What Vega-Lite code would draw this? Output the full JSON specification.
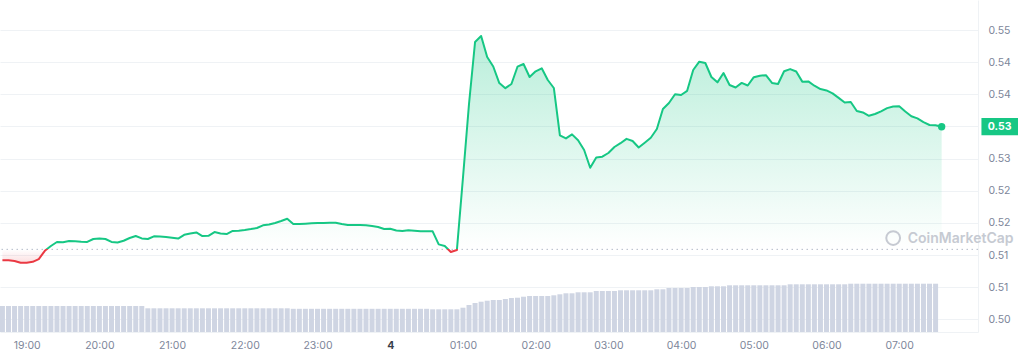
{
  "$schema": "https://vega.github.io/schema/vega-lite/v6.json",
  "width": 978,
  "height": 332,
  "autosize": {"type": "none"},
  "padding": {"left": 0, "top": 0, "right": 40, "bottom": 24},
  "background": "white",
  "config": {"view": {"stroke": null}, "font": "Inter", "scale": {"continuousPadding": 0}},
  "datasets": {
    "prices": [
      {"t":"2024-03-03T18:40:00Z","p":0.51417,"v":26},
      {"t":"2024-03-03T18:45:00Z","p":0.51417,"v":26},
      {"t":"2024-03-03T18:50:00Z","p":0.51408,"v":26},
      {"t":"2024-03-03T18:55:00Z","p":0.51380,"v":26},
      {"t":"2024-03-03T19:00:00Z","p":0.51380,"v":26},
      {"t":"2024-03-03T19:05:00Z","p":0.51394,"v":26},
      {"t":"2024-03-03T19:10:00Z","p":0.51437,"v":26},
      {"t":"2024-03-03T19:15:00Z","p":0.51565,"v":26},
      {"t":"2024-03-03T19:20:00Z","p":0.51640,"v":26},
      {"t":"2024-03-03T19:25:00Z","p":0.51702,"v":26},
      {"t":"2024-03-03T19:30:00Z","p":0.51697,"v":26},
      {"t":"2024-03-03T19:35:00Z","p":0.51717,"v":26},
      {"t":"2024-03-03T19:40:00Z","p":0.51713,"v":26},
      {"t":"2024-03-03T19:45:00Z","p":0.51707,"v":26},
      {"t":"2024-03-03T19:50:00Z","p":0.51704,"v":26},
      {"t":"2024-03-03T19:55:00Z","p":0.51749,"v":26},
      {"t":"2024-03-03T20:00:00Z","p":0.51758,"v":26},
      {"t":"2024-03-03T20:05:00Z","p":0.51749,"v":26},
      {"t":"2024-03-03T20:10:00Z","p":0.51704,"v":26},
      {"t":"2024-03-03T20:15:00Z","p":0.51694,"v":26},
      {"t":"2024-03-03T20:20:00Z","p":0.51722,"v":26},
      {"t":"2024-03-03T20:25:00Z","p":0.51764,"v":26},
      {"t":"2024-03-03T20:30:00Z","p":0.51795,"v":26},
      {"t":"2024-03-03T20:35:00Z","p":0.51758,"v":26},
      {"t":"2024-03-03T20:40:00Z","p":0.51749,"v":23.7},
      {"t":"2024-03-03T20:45:00Z","p":0.51791,"v":23.7},
      {"t":"2024-03-03T20:50:00Z","p":0.51786,"v":23.7},
      {"t":"2024-03-03T20:55:00Z","p":0.51781,"v":23.7},
      {"t":"2024-03-03T21:00:00Z","p":0.51769,"v":23.7},
      {"t":"2024-03-03T21:05:00Z","p":0.51756,"v":23.7},
      {"t":"2024-03-03T21:10:00Z","p":0.51814,"v":23.7},
      {"t":"2024-03-03T21:15:00Z","p":0.51833,"v":23.7},
      {"t":"2024-03-03T21:20:00Z","p":0.51851,"v":23.7},
      {"t":"2024-03-03T21:25:00Z","p":0.51795,"v":23.7},
      {"t":"2024-03-03T21:30:00Z","p":0.51798,"v":23.7},
      {"t":"2024-03-03T21:35:00Z","p":0.51857,"v":23.7},
      {"t":"2024-03-03T21:40:00Z","p":0.51836,"v":23.7},
      {"t":"2024-03-03T21:45:00Z","p":0.51826,"v":23.7},
      {"t":"2024-03-03T21:50:00Z","p":0.51875,"v":23.7},
      {"t":"2024-03-03T21:55:00Z","p":0.51878,"v":23.7},
      {"t":"2024-03-03T22:00:00Z","p":0.51889,"v":23.7},
      {"t":"2024-03-03T22:05:00Z","p":0.51903,"v":23.7},
      {"t":"2024-03-03T22:10:00Z","p":0.51920,"v":23.7},
      {"t":"2024-03-03T22:15:00Z","p":0.51962,"v":23.7},
      {"t":"2024-03-03T22:20:00Z","p":0.51976,"v":23.7},
      {"t":"2024-03-03T22:25:00Z","p":0.51999,"v":23.7},
      {"t":"2024-03-03T22:30:00Z","p":0.52029,"v":23.7},
      {"t":"2024-03-03T22:35:00Z","p":0.52064,"v":23.7},
      {"t":"2024-03-03T22:40:00Z","p":0.51982,"v":23.2},
      {"t":"2024-03-03T22:45:00Z","p":0.51982,"v":23.2},
      {"t":"2024-03-03T22:50:00Z","p":0.51988,"v":23.2},
      {"t":"2024-03-03T22:55:00Z","p":0.51993,"v":23.2},
      {"t":"2024-03-03T23:00:00Z","p":0.51997,"v":23.2},
      {"t":"2024-03-03T23:05:00Z","p":0.51999,"v":23.2},
      {"t":"2024-03-03T23:10:00Z","p":0.52001,"v":23.2},
      {"t":"2024-03-03T23:15:00Z","p":0.52002,"v":23.2},
      {"t":"2024-03-03T23:20:00Z","p":0.51982,"v":23.2},
      {"t":"2024-03-03T23:25:00Z","p":0.51966,"v":23.2},
      {"t":"2024-03-03T23:30:00Z","p":0.51966,"v":23.2},
      {"t":"2024-03-03T23:35:00Z","p":0.51968,"v":23.2},
      {"t":"2024-03-03T23:40:00Z","p":0.51962,"v":23.2},
      {"t":"2024-03-03T23:45:00Z","p":0.51951,"v":23.2},
      {"t":"2024-03-03T23:50:00Z","p":0.51935,"v":23.2},
      {"t":"2024-03-03T23:55:00Z","p":0.51904,"v":23.2},
      {"t":"2024-03-04T00:00:00Z","p":0.51909,"v":23.2},
      {"t":"2024-03-04T00:05:00Z","p":0.51881,"v":23.2},
      {"t":"2024-03-04T00:10:00Z","p":0.51873,"v":23.2},
      {"t":"2024-03-04T00:15:00Z","p":0.51886,"v":23.2},
      {"t":"2024-03-04T00:20:00Z","p":0.51876,"v":23.2},
      {"t":"2024-03-04T00:25:00Z","p":0.51868,"v":23.2},
      {"t":"2024-03-04T00:30:00Z","p":0.51868,"v":23.2},
      {"t":"2024-03-04T00:35:00Z","p":0.51868,"v":22.7},
      {"t":"2024-03-04T00:40:00Z","p":0.51665,"v":22.7},
      {"t":"2024-03-04T00:45:00Z","p":0.51640,"v":22.7},
      {"t":"2024-03-04T00:50:00Z","p":0.51546,"v":22.7},
      {"t":"2024-03-04T00:55:00Z","p":0.51577,"v":22.7},
      {"t":"2024-03-04T01:00:00Z","p":0.52698,"v":24.3},
      {"t":"2024-03-04T01:05:00Z","p":0.53849,"v":27},
      {"t":"2024-03-04T01:10:00Z","p":0.54813,"v":29},
      {"t":"2024-03-04T01:15:00Z","p":0.54907,"v":30.3},
      {"t":"2024-03-04T01:20:00Z","p":0.54580,"v":31.3},
      {"t":"2024-03-04T01:25:00Z","p":0.54432,"v":32},
      {"t":"2024-03-04T01:30:00Z","p":0.54175,"v":32},
      {"t":"2024-03-04T01:35:00Z","p":0.54095,"v":33},
      {"t":"2024-03-04T01:40:00Z","p":0.54160,"v":34},
      {"t":"2024-03-04T01:45:00Z","p":0.54429,"v":34.3},
      {"t":"2024-03-04T01:50:00Z","p":0.54471,"v":35.3},
      {"t":"2024-03-04T01:55:00Z","p":0.54269,"v":36},
      {"t":"2024-03-04T02:00:00Z","p":0.54358,"v":36},
      {"t":"2024-03-04T02:05:00Z","p":0.54404,"v":36},
      {"t":"2024-03-04T02:10:00Z","p":0.54222,"v":36},
      {"t":"2024-03-04T02:15:00Z","p":0.54098,"v":36.7},
      {"t":"2024-03-04T02:20:00Z","p":0.53362,"v":37.7},
      {"t":"2024-03-04T02:25:00Z","p":0.53314,"v":38.7},
      {"t":"2024-03-04T02:30:00Z","p":0.53377,"v":38.7},
      {"t":"2024-03-04T02:35:00Z","p":0.53284,"v":39.7},
      {"t":"2024-03-04T02:40:00Z","p":0.53133,"v":39.7},
      {"t":"2024-03-04T02:45:00Z","p":0.52858,"v":39.7},
      {"t":"2024-03-04T02:50:00Z","p":0.53018,"v":41},
      {"t":"2024-03-04T02:55:00Z","p":0.53029,"v":41},
      {"t":"2024-03-04T03:00:00Z","p":0.53087,"v":41},
      {"t":"2024-03-04T03:05:00Z","p":0.53180,"v":41},
      {"t":"2024-03-04T03:10:00Z","p":0.53239,"v":41.7},
      {"t":"2024-03-04T03:15:00Z","p":0.53307,"v":41.7},
      {"t":"2024-03-04T03:20:00Z","p":0.53273,"v":41.7},
      {"t":"2024-03-04T03:25:00Z","p":0.53172,"v":41.7},
      {"t":"2024-03-04T03:30:00Z","p":0.53247,"v":41.7},
      {"t":"2024-03-04T03:35:00Z","p":0.53324,"v":41.7},
      {"t":"2024-03-04T03:40:00Z","p":0.53460,"v":42.7},
      {"t":"2024-03-04T03:45:00Z","p":0.53771,"v":42.7},
      {"t":"2024-03-04T03:50:00Z","p":0.53864,"v":44},
      {"t":"2024-03-04T03:55:00Z","p":0.54001,"v":44},
      {"t":"2024-03-04T04:00:00Z","p":0.53989,"v":44},
      {"t":"2024-03-04T04:05:00Z","p":0.54054,"v":44},
      {"t":"2024-03-04T04:10:00Z","p":0.54378,"v":45},
      {"t":"2024-03-04T04:15:00Z","p":0.54507,"v":45},
      {"t":"2024-03-04T04:20:00Z","p":0.54487,"v":45},
      {"t":"2024-03-04T04:25:00Z","p":0.54269,"v":45.7},
      {"t":"2024-03-04T04:30:00Z","p":0.54186,"v":45.7},
      {"t":"2024-03-04T04:35:00Z","p":0.54331,"v":45.7},
      {"t":"2024-03-04T04:40:00Z","p":0.54144,"v":46.7},
      {"t":"2024-03-04T04:45:00Z","p":0.54106,"v":46.7},
      {"t":"2024-03-04T04:50:00Z","p":0.54177,"v":46.7},
      {"t":"2024-03-04T04:55:00Z","p":0.54137,"v":46.7},
      {"t":"2024-03-04T05:00:00Z","p":0.54266,"v":46.7},
      {"t":"2024-03-04T05:05:00Z","p":0.54289,"v":46.7},
      {"t":"2024-03-04T05:10:00Z","p":0.54297,"v":46.7},
      {"t":"2024-03-04T05:15:00Z","p":0.54177,"v":46.7},
      {"t":"2024-03-04T05:20:00Z","p":0.54160,"v":46.7},
      {"t":"2024-03-04T05:25:00Z","p":0.54358,"v":46.7},
      {"t":"2024-03-04T05:30:00Z","p":0.54392,"v":47.7},
      {"t":"2024-03-04T05:35:00Z","p":0.54354,"v":47.7},
      {"t":"2024-03-04T05:40:00Z","p":0.54197,"v":47.7},
      {"t":"2024-03-04T05:45:00Z","p":0.54200,"v":47.7},
      {"t":"2024-03-04T05:50:00Z","p":0.54133,"v":47.7},
      {"t":"2024-03-04T05:55:00Z","p":0.54082,"v":47.7},
      {"t":"2024-03-04T06:00:00Z","p":0.54060,"v":47.7},
      {"t":"2024-03-04T06:05:00Z","p":0.54014,"v":47.7},
      {"t":"2024-03-04T06:10:00Z","p":0.53944,"v":47.7},
      {"t":"2024-03-04T06:15:00Z","p":0.53871,"v":47.7},
      {"t":"2024-03-04T06:20:00Z","p":0.53880,"v":48.3},
      {"t":"2024-03-04T06:25:00Z","p":0.53740,"v":48.3},
      {"t":"2024-03-04T06:30:00Z","p":0.53718,"v":48.3},
      {"t":"2024-03-04T06:35:00Z","p":0.53665,"v":48.3},
      {"t":"2024-03-04T06:40:00Z","p":0.53693,"v":48.3},
      {"t":"2024-03-04T06:45:00Z","p":0.53735,"v":48.3},
      {"t":"2024-03-04T06:50:00Z","p":0.53785,"v":48.3},
      {"t":"2024-03-04T06:55:00Z","p":0.53810,"v":48.3},
      {"t":"2024-03-04T07:00:00Z","p":0.53813,"v":48.3},
      {"t":"2024-03-04T07:05:00Z","p":0.53732,"v":48.3},
      {"t":"2024-03-04T07:10:00Z","p":0.53659,"v":48.3},
      {"t":"2024-03-04T07:15:00Z","p":0.53625,"v":48.3},
      {"t":"2024-03-04T07:20:00Z","p":0.53566,"v":48.3},
      {"t":"2024-03-04T07:25:00Z","p":0.53522,"v":48.3},
      {"t":"2024-03-04T07:30:00Z","p":0.53517,"v":48.3},
      {"t":"2024-03-04T07:35:00Z","p":0.53496}
    ],
    "last": [
      {"t":"2024-03-04T07:35:00Z","p":0.53496}
    ]
  },
  "layer": [
    {
      "data": {"name": "prices"},
      "mark": {"type": "bar", "width": 5, "color": "#cfd5e3"},
      "encoding": {
        "x": {"field": "t", "type": "temporal", "title": null,
          "scale": {"type": "utc", "padding": 0, "domain": [{"year":2024,"month":3,"date":3,"hours":18,"minutes":38,"utc":true},{"year":2024,"month":3,"date":4,"hours":8,"minutes":5,"utc":true}]},
          "axis": {
            "values": [
              {"year":2024,"month":3,"date":3,"hours":19,"utc":true},
              {"year":2024,"month":3,"date":3,"hours":20,"utc":true},
              {"year":2024,"month":3,"date":3,"hours":21,"utc":true},
              {"year":2024,"month":3,"date":3,"hours":22,"utc":true},
              {"year":2024,"month":3,"date":3,"hours":23,"utc":true},
              {"year":2024,"month":3,"date":4,"hours":0,"utc":true},
              {"year":2024,"month":3,"date":4,"hours":1,"utc":true},
              {"year":2024,"month":3,"date":4,"hours":2,"utc":true},
              {"year":2024,"month":3,"date":4,"hours":3,"utc":true},
              {"year":2024,"month":3,"date":4,"hours":4,"utc":true},
              {"year":2024,"month":3,"date":4,"hours":5,"utc":true},
              {"year":2024,"month":3,"date":4,"hours":6,"utc":true},
              {"year":2024,"month":3,"date":4,"hours":7,"utc":true}
            ],
            "tickCount": 20,
            "labelExpr": "utchours(datum.value) == 0 ? utcFormat(datum.value, '%-d') : utcFormat(datum.value, '%H:%M')",
            "grid": false, "ticks": false, "domain": true, "domainColor": "#eff2f5",
            "labelPadding": 8, "labelFontSize": 10.5, "labelFont": "Inter", "labelFlush": false,
            "labelColor": {"condition": {"test": "utchours(datum.value) == 0", "value": "#3a3f4b"}, "value": "#7d869a"},
            "labelFontWeight": {"condition": {"test": "utchours(datum.value) == 0", "value": "bold"}, "value": "normal"}
          }
        },
        "y": {"field": "v", "type": "quantitative", "title": null, "scale": {"domain": [0, 332], "nice": false}, "axis": null}
      }
    },
    {
      "layer": [
        {
          "data": {"name": "prices"},
          "mark": {"type": "area", "interpolate": "linear",
            "color": {"gradient": "linear", "x1": 0, "y1": 0, "x2": 0, "y2": 1,
              "stops": [
                {"offset": 0, "color": "rgba(22,199,132,0.30)"},
                {"offset": 0.941, "color": "rgba(22,199,132,0.0)"},
                {"offset": 0.941, "color": "rgba(234,57,67,0.0)"},
                {"offset": 1, "color": "rgba(234,57,67,0.16)"}
              ]}},
          "encoding": {
            "x": {"field": "t", "type": "temporal", "title": null,
              "scale": {"type": "utc", "padding": 0, "domain": [{"year":2024,"month":3,"date":3,"hours":18,"minutes":38,"utc":true},{"year":2024,"month":3,"date":4,"hours":8,"minutes":5,"utc":true}]}},
            "y": {"field": "p", "type": "quantitative", "title": null, "scale": {"domain": [0.503024, 0.554667], "nice": false, "zero": false}},
            "y2": {"datum": 0.51588}
          }
        },
        {
          "data": {"values": [{}]},
          "mark": {"type": "rule", "strokeDash": [1.5, 3.5], "color": "#b3bac8", "strokeWidth": 1},
          "encoding": {
            "y": {"datum": 0.51588, "type": "quantitative", "title": null, "scale": {"domain": [0.503024, 0.554667], "nice": false, "zero": false}}
          }
        },
        {
          "data": {"name": "prices"},
          "mark": {"type": "line", "interpolate": "linear", "strokeWidth": 2, "strokeJoin": "round",
            "stroke": {"gradient": "linear", "x1": 0, "y1": 0, "x2": 0, "y2": 1,
              "stops": [
                {"offset": 0, "color": "#16c784"},
                {"offset": 0.941, "color": "#16c784"},
                {"offset": 0.941, "color": "#ea3943"},
                {"offset": 1, "color": "#ea3943"}
              ]}},
          "encoding": {
            "x": {"field": "t", "type": "temporal", "title": null,
              "scale": {"type": "utc", "padding": 0, "domain": [{"year":2024,"month":3,"date":3,"hours":18,"minutes":38,"utc":true},{"year":2024,"month":3,"date":4,"hours":8,"minutes":5,"utc":true}]}},
            "y": {"field": "p", "type": "quantitative", "title": null,
              "scale": {"domain": [0.503024, 0.554667], "nice": false, "zero": false},
              "axis": {
                "orient": "right",
                "values": [0.505, 0.51, 0.515, 0.52, 0.525, 0.53, 0.535, 0.54, 0.545, 0.55],
                "tickCount": 20,
                "labelOverlap": false,
                "labelExpr": "abs(datum.value - 0.535) < 0.000001 ? '' : format(floor(datum.value * 100 + 0.000001) / 100, '.2f')",
                "ticks": false, "domain": true, "domainColor": "#eff2f5",
                "grid": true, "gridColor": "#eff2f5",
                "labelPadding": 10, "labelFontSize": 10.5, "labelFont": "Inter", "labelColor": "#7d869a", "labelAlign": "left"
              }
            }
          }
        },
        {
          "data": {"name": "last"},
          "mark": {"type": "point", "shape": "M1.99,-0.43H4.3V0.43H1.99Z", "size": 1600, "filled": true, "color": "#16c784", "opacity": 1, "strokeWidth": 0},
          "encoding": {
            "x": {"field": "t", "type": "temporal", "title": null,
              "scale": {"type": "utc", "padding": 0, "domain": [{"year":2024,"month":3,"date":3,"hours":18,"minutes":38,"utc":true},{"year":2024,"month":3,"date":4,"hours":8,"minutes":5,"utc":true}]}},
            "y": {"field": "p", "type": "quantitative", "title": null, "scale": {"domain": [0.503024, 0.554667], "nice": false, "zero": false}}
          }
        },
        {
          "data": {"name": "last"},
          "mark": {"type": "point", "shape": "circle", "size": 55, "filled": true, "color": "#16c784", "opacity": 1},
          "encoding": {
            "x": {"field": "t", "type": "temporal", "title": null,
              "scale": {"type": "utc", "padding": 0, "domain": [{"year":2024,"month":3,"date":3,"hours":18,"minutes":38,"utc":true},{"year":2024,"month":3,"date":4,"hours":8,"minutes":5,"utc":true}]}},
            "y": {"field": "p", "type": "quantitative", "title": null, "scale": {"domain": [0.503024, 0.554667], "nice": false, "zero": false}}
          }
        },
        {
          "data": {"name": "last"},
          "mark": {"type": "text", "dx": 58, "align": "center", "baseline": "middle", "color": "white", "fontSize": 10.5, "fontWeight": "bold", "font": "Inter"},
          "encoding": {
            "x": {"field": "t", "type": "temporal", "title": null,
              "scale": {"type": "utc", "padding": 0, "domain": [{"year":2024,"month":3,"date":3,"hours":18,"minutes":38,"utc":true},{"year":2024,"month":3,"date":4,"hours":8,"minutes":5,"utc":true}]}},
            "y": {"field": "p", "type": "quantitative", "title": null, "scale": {"domain": [0.503024, 0.554667], "nice": false, "zero": false}},
            "text": {"field": "p", "type": "quantitative", "format": ".2f"}
          }
        },
        {
          "data": {"values": [{}]},
          "mark": {"type": "point", "shape": "circle", "size": 190, "filled": false, "stroke": "#c6cad2", "strokeWidth": 2, "opacity": 1},
          "encoding": {
            "x": {"datum": {"year":2024,"month":3,"date":4,"hours":6,"minutes":55,"utc":true}, "type": "temporal", "title": null,
              "scale": {"type": "utc", "padding": 0, "domain": [{"year":2024,"month":3,"date":3,"hours":18,"minutes":38,"utc":true},{"year":2024,"month":3,"date":4,"hours":8,"minutes":5,"utc":true}]}},
            "y": {"datum": 0.51764, "type": "quantitative", "title": null, "scale": {"domain": [0.503024, 0.554667], "nice": false, "zero": false}}
          }
        },
        {
          "data": {"values": [{}]},
          "mark": {"type": "text", "text": "CoinMarketCap", "align": "left", "baseline": "middle", "fontSize": 14, "fontWeight": 600, "color": "#c6cad2", "font": "Inter"},
          "encoding": {
            "x": {"datum": {"year":2024,"month":3,"date":4,"hours":7,"minutes":7,"utc":true}, "type": "temporal", "title": null,
              "scale": {"type": "utc", "padding": 0, "domain": [{"year":2024,"month":3,"date":3,"hours":18,"minutes":38,"utc":true},{"year":2024,"month":3,"date":4,"hours":8,"minutes":5,"utc":true}]}},
            "y": {"datum": 0.51749, "type": "quantitative", "title": null, "scale": {"domain": [0.503024, 0.554667], "nice": false, "zero": false}}
          }
        }
      ]
    }
  ],
  "resolve": {"scale": {"y": "independent"}}
}
